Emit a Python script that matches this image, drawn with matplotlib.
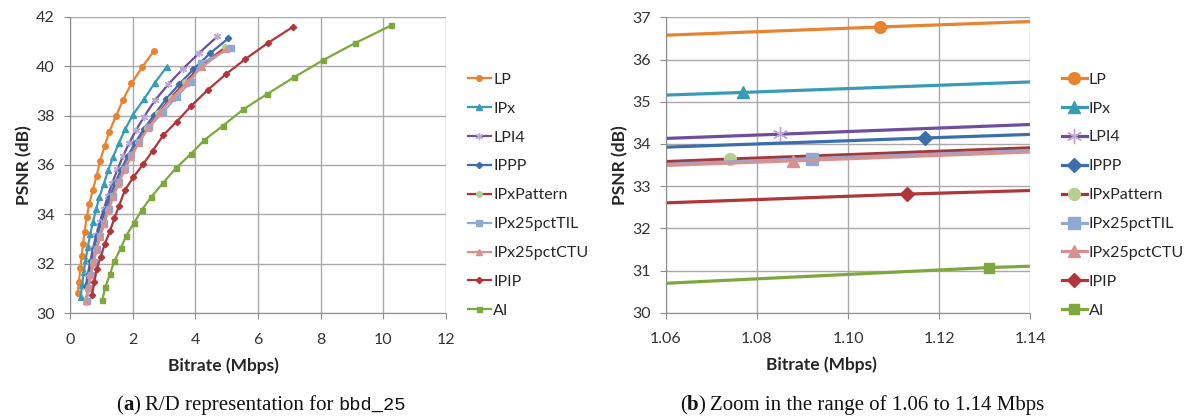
import matplotlib
matplotlib.use('Agg')
import matplotlib.pyplot as plt

plt.rcParams['font.family'] = ['Lato', 'DejaVu Sans']

# R/D points per configuration (bitrate in Mbps, PSNR in dB)
lp_x = [0.245, 0.287, 0.33, 0.372, 0.415, 0.468, 0.532, 0.617, 0.723, 0.85, 0.957, 1.107, 1.255, 1.468, 1.70, 1.957, 2.30, 2.67]
lp_y = [30.81, 31.28, 31.82, 32.3, 32.8, 33.3, 33.88, 34.42, 34.97, 35.56, 36.15, 36.77, 37.35, 37.98, 38.65, 39.3, 39.95, 40.6]

ipx_x = [0.34, 0.386, 0.439, 0.499, 0.567, 0.645, 0.733, 0.833, 0.940, 1.077, 1.219, 1.38, 1.562, 1.768, 2.0, 2.36, 2.71, 3.09]
ipx_y = [30.65, 31.16, 31.67, 32.17, 32.68, 33.19, 33.70, 34.20, 34.71, 35.22, 35.78, 36.34, 36.9, 37.46, 38.02, 38.66, 39.33, 39.98]

lpi4_x = [0.5, 0.568, 0.647, 0.736, 0.838, 0.953, 1.085, 1.212, 1.355, 1.514, 1.691, 1.890, 2.112, 2.36, 2.72, 3.14, 3.61, 4.13, 4.70]
lpi4_y = [31.05, 31.58, 32.11, 32.64, 33.17, 33.70, 34.23, 34.76, 35.29, 35.82, 36.36, 36.89, 37.42, 37.95, 38.63, 39.27, 39.9, 40.54, 41.2]

ippp_x = [0.52, 0.591, 0.671, 0.762, 0.866, 0.983, 1.117, 1.266, 1.434, 1.625, 1.841, 2.086, 2.364, 2.68, 3.06, 3.49, 3.94, 4.47, 5.05]
ippp_y = [31.10, 31.61, 32.11, 32.62, 33.13, 33.63, 34.14, 34.69, 35.25, 35.80, 36.36, 36.91, 37.47, 38.02, 38.66, 39.28, 39.87, 40.52, 41.12]

pat_x = [0.51, 0.578, 0.654, 0.740, 0.838, 0.949, 1.074, 1.21, 1.36, 1.53, 1.72, 1.935, 2.18, 2.47, 2.82, 3.22, 3.67, 4.17, 4.96]
pat_y = [30.47, 31.00, 31.53, 32.06, 32.58, 33.11, 33.64, 34.19, 34.74, 35.28, 35.83, 36.38, 36.93, 37.5, 38.1, 38.72, 39.35, 40.0, 40.76]

til_x = [0.53, 0.598, 0.674, 0.761, 0.858, 0.968, 1.092, 1.23, 1.38, 1.55, 1.74, 1.96, 2.21, 2.53, 2.98, 3.4, 3.86, 4.17, 5.14]
til_y = [30.50, 31.03, 31.55, 32.08, 32.60, 33.13, 33.65, 34.2, 34.75, 35.3, 35.85, 36.4, 36.95, 37.55, 38.15, 38.76, 39.37, 40.11, 40.72]

ctu_x = [0.50, 0.570, 0.649, 0.738, 0.840, 0.956, 1.088, 1.223, 1.375, 1.545, 1.737, 1.952, 2.2, 2.5, 2.85, 3.25, 3.7, 4.2, 4.97]
ctu_y = [30.50, 31.02, 31.53, 32.05, 32.57, 33.08, 33.60, 34.14, 34.69, 35.23, 35.78, 36.32, 36.9, 37.5, 38.1, 38.7, 39.3, 39.95, 40.68]

ipip_x = [0.70, 0.78, 0.85, 0.98, 1.113, 1.28, 1.415, 1.57, 1.755, 2.02, 2.34, 2.64, 2.98, 3.40, 3.87, 4.39, 4.98, 5.59, 6.33, 7.13]
ipip_y = [30.74, 31.28, 31.78, 32.29, 32.81, 33.34, 33.84, 34.36, 34.99, 35.5, 36.04, 36.58, 37.21, 37.75, 38.39, 39.03, 39.68, 40.28, 40.95, 41.6]

ai_x = [1.03, 1.131, 1.28, 1.41, 1.62, 1.79, 2.05, 2.29, 2.59, 2.96, 3.38, 3.86, 4.29, 4.87, 5.53, 6.28, 7.15, 8.06, 9.08, 10.26]
ai_y = [30.54, 31.07, 31.6, 32.1, 32.63, 33.13, 33.67, 34.18, 34.7, 35.26, 35.87, 36.45, 37.01, 37.58, 38.25, 38.86, 39.55, 40.23, 40.92, 41.65]

labels = ['LP', 'IPx', 'LPI4', 'IPPP', 'IPxPattern', 'IPx25pctTIL', 'IPx25pctCTU', 'IPIP', 'AI']
xs = [lp_x, ipx_x, lpi4_x, ippp_x, pat_x, til_x, ctu_x, ipip_x, ai_x]
ys = [lp_y, ipx_y, lpi4_y, ippp_y, pat_y, til_y, ctu_y, ipip_y, ai_y]

# style: line colour, marker, marker colour, size scale
styles = [
    ('#E8832F', 'o', '#E8832F', 1.0),
    ('#3A9CB4', '^', '#3A9CB4', 1.0),
    ('#6F4E9C', (6, 2, 0), '#B9A8D3', 1.3),
    ('#3C6EAE', 'D', '#3C6EAE', 0.8),
    ('#A3383B', 'o', '#B8CD91', 1.0),
    ('#8FA9D5', 's', '#8FA9D5', 1.0),
    ('#D89190', '^', '#D89190', 1.0),
    ('#B03639', 'D', '#B03639', 0.8),
    ('#7EA83E', 's', '#7EA83E', 0.9),
]

W, H = 1184, 416
fig = plt.figure(figsize=(W / 100, H / 100), dpi=100)
ax1 = fig.add_axes([70 / W, 1 - 313.3 / H, 376 / W, 296.6 / H])
ax2 = fig.add_axes([666 / W, 1 - 312.7 / H, 364 / W, 295.4 / H])

for ax, lw, ms in [(ax1, 1.6, 4.0), (ax2, 2.3, 8.5)]:
    for lab, x, y, (c, m, mc, k) in zip(labels, xs, ys, styles):
        ax.plot(x, y, color=c, lw=lw, marker=m, ms=ms * k, mfc=mc, mec=mc,
                mew=1.0, label=lab)
    ax.grid(True, color='#a9a9a9', lw=1.0)
    ax.set_axisbelow(True)
    for side in ['top', 'right']:
        ax.spines[side].set_visible(False)
    for side in ['left', 'bottom']:
        ax.spines[side].set_color('#8c8c8c')
    ax.tick_params(direction='out', length=4, color='#8c8c8c', labelsize=11.5,
                   labelcolor='#333333')
    ax.tick_params(axis='x', pad=10)
    ax.tick_params(axis='y', pad=7)
    ax.set_xlabel('Bitrate (Mbps)', fontsize=12.5, fontweight='bold', color='#262626')
    ax.set_ylabel('PSNR (dB)', fontsize=12.5, fontweight='bold', color='#262626')

ax1.xaxis.set_label_coords(0.407, -0.148)
ax1.yaxis.set_label_coords(-0.101, 0.5)
ax2.xaxis.set_label_coords(0.427, -0.148)
ax2.yaxis.set_label_coords(-0.105, 0.5)

ax1.set_xlim(0, 12)
ax1.set_ylim(30, 42)
ax1.set_xticks(range(0, 13, 2))
ax1.set_yticks(range(30, 43, 2))

ax2.set_xlim(1.06, 1.14)
ax2.set_ylim(30, 37)
ax2.set_xticks([1.06, 1.08, 1.10, 1.12, 1.14])
ax2.set_xticklabels(['1.06', '1.08', '1.10', '1.12', '1.14'])
ax2.set_yticks(range(30, 38))

ax1.legend(loc='center left', bbox_to_anchor=(1.058, 0.398), frameon=False,
           fontsize=11.5, handlelength=1.45, handletextpad=0.15, labelspacing=0.92,
           borderpad=0, borderaxespad=0, labelcolor='#262626')
ax2.legend(loc='center left', bbox_to_anchor=(1.087, 0.398), frameon=False,
           fontsize=11.5, handlelength=1.6, handletextpad=0.1, labelspacing=0.92,
           borderpad=0, borderaxespad=0, labelcolor='#262626')

# captions made of several runs of text
serif = ['Liberation Serif', 'DejaVu Serif']
mono = ['Liberation Mono', 'DejaVu Sans Mono']


def caption(cx, base, runs):
    r = fig.canvas.get_renderer()
    items = []
    for s, fam, wt, size, gap in runs:
        t = fig.text(0, base / H, s, family=fam, fontweight=wt, fontsize=size,
                     va='baseline', ha='left', color='#111111')
        items.append((t, t.get_window_extent(r).width + gap))
    total = sum(w for _, w in items)
    x = cx - total / 2
    for t, w in items:
        t.set_x(x / W)
        x += w


caption(261, 416 - 410, [
    ('(', serif, 'normal', 15, 0),
    ('a', serif, 'bold', 15, 0),
    (')', serif, 'normal', 15, 4),
    ('R/D representation for', serif, 'normal', 15, 5),
    ('bbd_25', mono, 'normal', 13.5, 0),
])
caption(862, 416 - 410, [
    ('(', serif, 'normal', 15, 0),
    ('b', serif, 'bold', 15, 0),
    (')', serif, 'normal', 15, 4),
    ('Zoom in the range of 1.06 to 1.14 Mbps', serif, 'normal', 15, 0),
])

fig.savefig('out.png', dpi=100)
